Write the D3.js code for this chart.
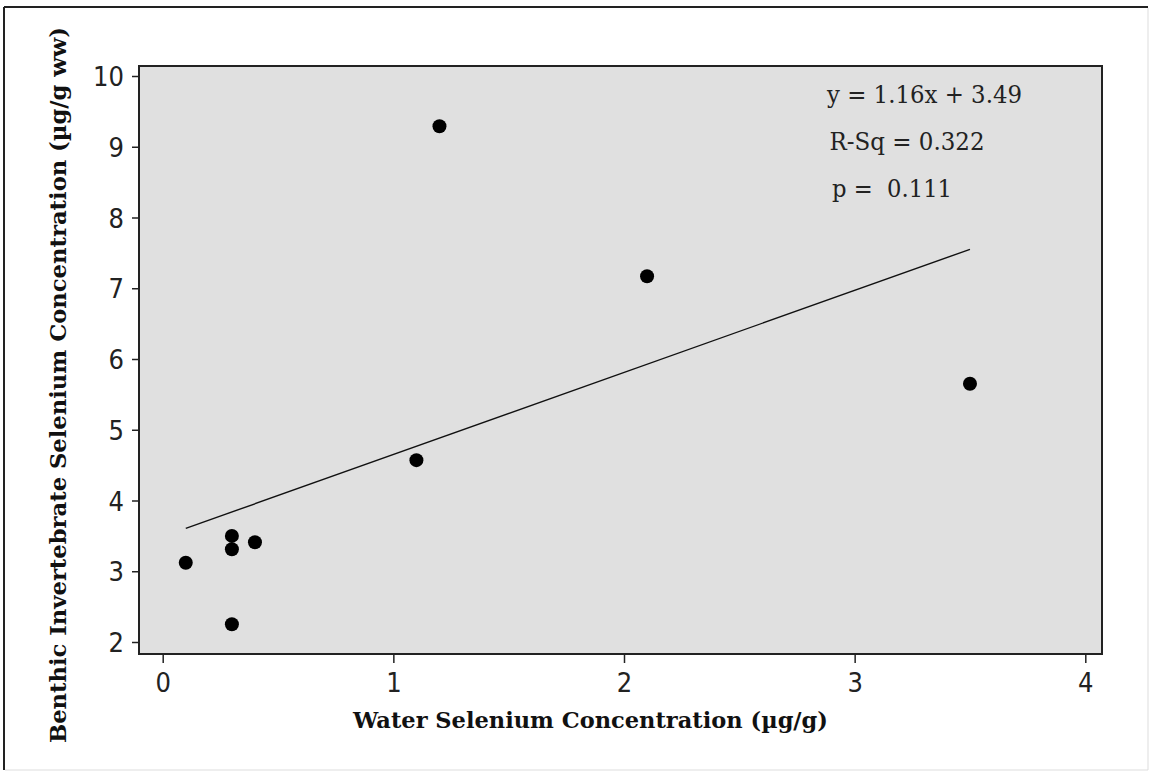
<!DOCTYPE html>
<html>
<head>
<meta charset="utf-8">
<script src="https://cdn.jsdelivr.net/npm/d3@7"></script>
<style>
  body { margin: 0; background: #fff; }
  .tick text { font-family: "Liberation Sans Narrow", "DejaVu Sans Condensed", sans-serif; font-size: 27px; fill: #222; }
  .title { font-family: "DejaVu Serif", serif; font-weight: bold; font-size: 23px; fill: #111; }
  .note { font-family: "DejaVu Serif", serif; font-size: 25px; fill: #222; white-space: pre; }
</style>
</head>
<body>
<svg id="chart" width="1151" height="773"></svg>
<script>
// water Se (ug/g) vs benthic invertebrate Se (ug/g ww)
const waterSe = [0.1, 0.3, 0.3, 0.3, 0.4, 1.1, 1.2, 2.1, 3.5];
const benthicSe = [3.12, 3.50, 3.31, 2.25, 3.41, 4.57, 9.29, 7.17, 5.65];
const xTicks = [0, 1, 2, 3, 4];
const yTicks = [2, 3, 4, 5, 6, 7, 8, 9, 10];
const fitSlope = 1.16, fitIntercept = 3.49;
const notes = ['y = 1.16x + 3.49', 'R-Sq = 0.322', 'p =  0.111'];
const noteWidths = [195, 155, 120];

const svg = d3.select('#chart');

// plot box
const box = {left: 139, right: 1102, top: 66, bottom: 654};

let x = d3.scaleLinear().domain([0, 4]).range([162.7, 1085.3]);
let y = d3.scaleLinear().domain([2, 10]).range([642, 76]);

// outer frame (dark top/left, light bottom/right)
svg.append('line').attr('x1', 4).attr('y1', 7).attr('x2', 1148).attr('y2', 7)
  .attr('stroke', '#222').attr('stroke-width', 2);
svg.append('line').attr('x1', 4).attr('y1', 7).attr('x2', 4).attr('y2', 770)
  .attr('stroke', '#222').attr('stroke-width', 2);
svg.append('line').attr('x1', 1148).attr('y1', 8).attr('x2', 1148).attr('y2', 770)
  .attr('stroke', '#ddd').attr('stroke-width', 1);
svg.append('line').attr('x1', 5).attr('y1', 770).attr('x2', 1148).attr('y2', 770)
  .attr('stroke', '#ddd').attr('stroke-width', 1);

svg.append('rect')
  .attr('x', box.left)
  .attr('y', box.top)
  .attr('width', box.right - box.left)
  .attr('height', box.bottom - box.top)
  .attr('fill', '#e0e0e0')
  .attr('stroke', '#222')
  .attr('stroke-width', 2);

let xAxis = svg.append('g')
  .attr('transform', `translate(0, ${box.bottom})`)
  .call(d3.axisBottom(x).tickValues(xTicks).tickFormat(d3.format('d')).tickSize(9).tickPadding(10).tickSizeOuter(0));
xAxis.select('.domain').remove();
xAxis.selectAll('.tick line').attr('stroke', '#222').attr('stroke-width', 1.5);

let yAxis = svg.append('g')
  .attr('transform', `translate(${box.left}, 0)`)
  .call(d3.axisLeft(y).tickValues(yTicks).tickFormat(d3.format('d')).tickSize(7).tickPadding(8).tickSizeOuter(0));
yAxis.select('.domain').remove();
yAxis.selectAll('.tick line').attr('stroke', '#222').attr('stroke-width', 1.5);
yAxis.selectAll('.tick text').attr('dy', '0.36em');

// fitted line
let xMin = d3.min(waterSe), xMax = d3.max(waterSe);
svg.append('line')
  .attr('x1', x(xMin))
  .attr('y1', y(fitIntercept + fitSlope * xMin))
  .attr('x2', x(xMax))
  .attr('y2', y(fitIntercept + fitSlope * xMax))
  .attr('stroke', '#111')
  .attr('stroke-width', 1.4);

svg.append('g')
  .selectAll('circle')
  .data(waterSe.map((d, i) => ({w: d, b: benthicSe[i]})))
  .enter()
  .append('circle')
  .attr('cx', d => x(d.w))
  .attr('cy', d => y(d.b))
  .attr('r', 7)
  .attr('fill', '#000');

svg.append('g')
  .selectAll('text')
  .data(notes)
  .enter()
  .append('text')
  .attr('class', 'note')
  .attr('x', (d, i) => 827 + i * 2.5)
  .attr('y', (d, i) => 103 + i * 47)
  .attr('textLength', (d, i) => noteWidths[i])
  .attr('lengthAdjust', 'spacingAndGlyphs')
  .text(d => d);

svg.append('text')
  .attr('class', 'title')
  .attr('x', 353)
  .attr('y', 728)
  .attr('textLength', 475)
  .attr('lengthAdjust', 'spacingAndGlyphs')
  .text('Water Selenium Concentration (\u00b5g/g)');

svg.append('text')
  .attr('class', 'title')
  .style('font-size', '22px')
  .attr('transform', 'translate(66, 743) rotate(-90)')
  .attr('textLength', 716)
  .attr('lengthAdjust', 'spacingAndGlyphs')
  .text('Benthic Invertebrate Selenium Concentration (\u00b5g/g ww)');
</script>
</body>
</html>
